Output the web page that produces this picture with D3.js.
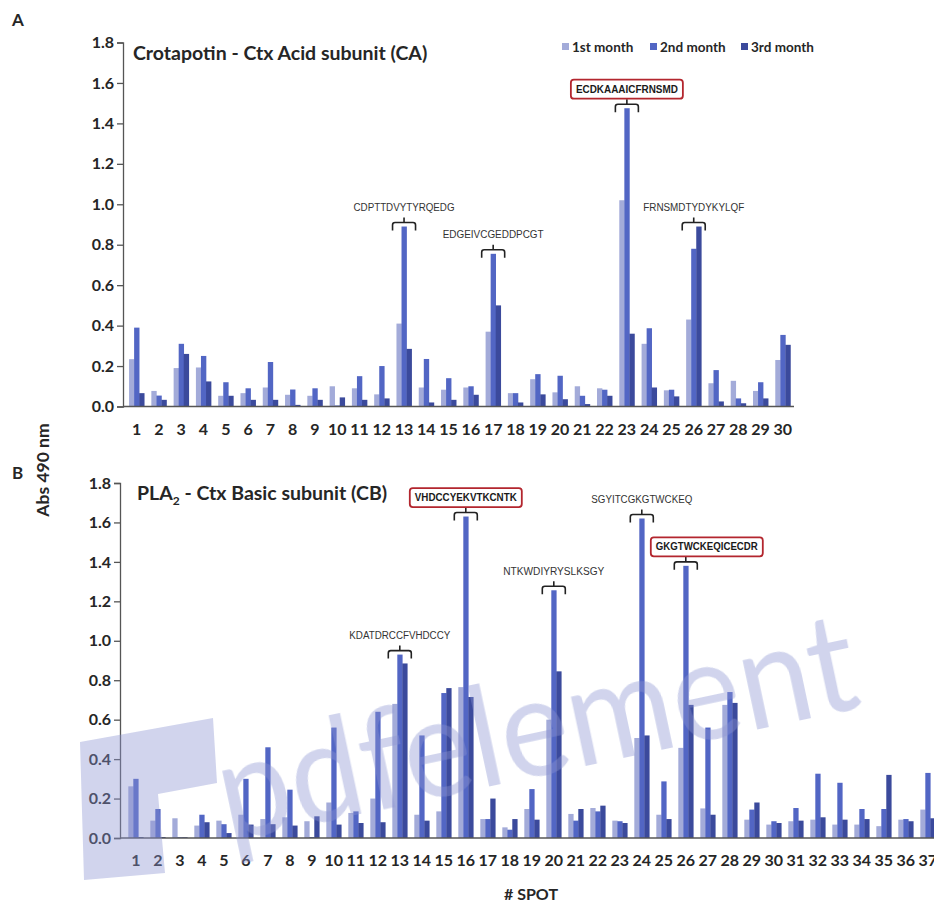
<!DOCTYPE html>
<html lang="en">
<head>
    <meta charset="UTF-8">
    <title>Crotoxin peptide spots - Abs 490 nm</title>
    <script src="https://d3js.org/d3.v7.min.js"></script>
    <style>
        body { margin: 0; background: #fff; }
        text { font-family: Lato, "Open Sans", Arial, sans-serif; fill: #262626; }
        .pep { font-family: "Liberation Sans", Arial, sans-serif; font-size: 10px; fill: #333; }
    </style>
</head>
<body>
    <div id="chart"></div>
    <script>
        // data
        const seriesNames = ["1st month", "2nd month", "3rd month"];

        const spotsA = d3.range(1, 31);
        const caMonth1 = [0.234, 0.077, 0.19, 0.193, 0.053, 0.066, 0.094, 0.058, 0.053, 0.10, 0.09, 0.06, 0.41, 0.094, 0.083,
                          0.094, 0.37, 0.066, 0.135, 0.07, 0.10, 0.09, 1.02, 0.31, 0.08, 0.43, 0.115, 0.127, 0.077, 0.23];
        const caMonth2 = [0.39, 0.054, 0.31, 0.25, 0.12, 0.09, 0.22, 0.084, 0.09, 0.005, 0.15, 0.20, 0.89, 0.235, 0.14,
                          0.10, 0.755, 0.066, 0.16, 0.152, 0.053, 0.083, 1.475, 0.387, 0.083, 0.78, 0.18, 0.04, 0.12, 0.354];
        const caMonth3 = [0.066, 0.033, 0.26, 0.124, 0.053, 0.033, 0.033, 0.008, 0.033, 0.045, 0.033, 0.04, 0.285, 0.02, 0.033,
                          0.058, 0.50, 0.02, 0.06, 0.036, 0.012, 0.053, 0.36, 0.094, 0.05, 0.89, 0.025, 0.016, 0.04, 0.305];

        const spotsB = d3.range(1, 38);
        const cbMonth1 = [0.262, 0.088, 0.10, 0.063, 0.088, 0.118, 0.096, 0.105, 0.085, 0.18, 0.127, 0.20, 0.68, 0.118, 0.135,
                          0.765, 0.096, 0.054, 0.147, 0.60, 0.122, 0.152, 0.088, 0.507, 0.118, 0.457, 0.15, 0.675, 0.093, 0.068,
                          0.085, 0.093, 0.068, 0.068, 0.06, 0.093, 0.144];
        const cbMonth2 = [0.30, 0.147, 0.004, 0.118, 0.07, 0.30, 0.46, 0.245, 0.005, 0.56, 0.135, 0.64, 0.93, 0.52, 0.735,
                          1.63, 0.096, 0.042, 0.248, 1.256, 0.088, 0.135, 0.085, 1.62, 0.287, 1.38, 0.56, 0.74, 0.144, 0.085,
                          0.152, 0.326, 0.28, 0.147, 0.147, 0.096, 0.33];
        const cbMonth3 = [0.005, 0.005, 0.004, 0.08, 0.025, 0.068, 0.07, 0.063, 0.11, 0.068, 0.076, 0.08, 0.885, 0.088, 0.76,
                          0.715, 0.20, 0.096, 0.093, 0.845, 0.147, 0.164, 0.076, 0.52, 0.096, 0.675, 0.118, 0.685, 0.18, 0.076,
                          0.088, 0.105, 0.093, 0.096, 0.32, 0.085, 0.10];

        const yTicks = [0, 0.2, 0.4, 0.6, 0.8, 1.0, 1.2, 1.4, 1.6, 1.8];

        const peptidesA = [
            { spot: 13, seq: "CDPTTDVYTYRQEDG", boxed: false },
            { spot: 17, seq: "EDGEIVCGEDDPCGT", boxed: false },
            { spot: 23, seq: "ECDKAAAICFRNSMD", boxed: true },
            { spot: 26, seq: "FRNSMDTYDYKYLQF", boxed: false }
        ];
        const peptidesB = [
            { spot: 13, seq: "KDATDRCCFVHDCCY", boxed: false },
            { spot: 16, seq: "VHDCCYEKVTKCNTK", boxed: true },
            { spot: 20, seq: "NTKWDIYRYSLKSGY", boxed: false },
            { spot: 24, seq: "SGYITCGKGTWCKEQ", boxed: false },
            { spot: 26, seq: "GKGTWCKEQICECDR", boxed: true, dx: 21 }
        ];

        const colors = ["#a3abd9", "#5266c4", "#3b4a9c"];

        const width = 934, height = 906;
        const svg = d3.select("#chart").append("svg")
            .attr("width", width)
            .attr("height", height);

        function drawPanel(opt) {
            const g = svg.append("g");
            const series = [opt.m1, opt.m2, opt.m3];

            const x = d3.scaleBand().domain(opt.spots).range([opt.x0, opt.x1]);
            const step = x.bandwidth();
            const xSub = d3.scaleBand().domain([0, 1, 2]).range([step * 0.16, step * 0.84]);
            const y = d3.scaleLinear().domain([0, 1.8]).range([opt.yZero, opt.yTop]);

            // bars
            series.forEach((vals, s) => {
                g.append("g").selectAll("rect")
                    .data(vals)
                    .join("rect")
                    .attr("x", (d, i) => x(opt.spots[i]) + xSub(s))
                    .attr("y", d => y(d))
                    .attr("width", xSub.bandwidth() + 0.3)
                    .attr("height", d => opt.yZero - y(d))
                    .attr("fill", colors[s]);
            });

            // y axis
            const yAxis = g.append("g")
                .attr("transform", `translate(${opt.axisX},0)`)
                .call(d3.axisLeft(y).tickValues(yTicks).tickFormat(d3.format(".1f")).tickSize(6).tickPadding(3));
            yAxis.selectAll("line, path").attr("stroke", "#555").attr("stroke-width", 1.3);
            yAxis.selectAll("text")
                .attr("font-size", 16)
                .attr("font-weight", "bold")
                .attr("font-family", "Lato, sans-serif")
                .attr("fill", "#262626");

            // x axis line
            g.append("line")
                .attr("x1", opt.axisX).attr("x2", opt.xAxisEnd)
                .attr("y1", opt.yZero).attr("y2", opt.yZero)
                .attr("stroke", "#555").attr("stroke-width", 1.6);

            g.append("g").selectAll("text")
                .data(opt.spots)
                .join("text")
                .attr("x", d => x(d) + step / 2)
                .attr("y", opt.yZero + 28)
                .attr("text-anchor", "middle")
                .attr("font-size", 16)
                .attr("font-weight", "bold")
                .text(d => d);

            // peptide brackets and labels
            opt.peptides.forEach(p => {
                const i = opt.spots.indexOf(p.spot);
                const top = y(d3.max(series, s => s[i]));
                const cx = x(p.spot) + step / 2;
                const by = top - 4;
                const hw = 11.5;
                g.append("path")
                    .attr("d", `M${cx - hw},${by + 8} L${cx - hw},${by + 2.5} Q${cx - hw},${by} ${cx - hw + 2.5},${by}` +
                               ` L${cx + hw - 2.5},${by} Q${cx + hw},${by} ${cx + hw},${by + 2.5} L${cx + hw},${by + 8}` +
                               ` M${cx},${by} L${cx},${by - 5}`)
                    .attr("fill", "none")
                    .attr("stroke", "#222")
                    .attr("stroke-width", 1.6);
                const tx = cx + (p.dx || 0);
                const ty = top - 19;
                if (p.boxed) {
                    g.append("rect")
                        .attr("x", tx - 56).attr("y", ty - 9.5)
                        .attr("width", 112).attr("height", 19)
                        .attr("rx", 3)
                        .attr("fill", "#fff")
                        .attr("stroke", "#b3262e")
                        .attr("stroke-width", 1.8);
                    g.append("text")
                        .attr("class", "pep")
                        .attr("x", tx).attr("y", ty + 3.5)
                        .attr("text-anchor", "middle")
                        .attr("font-weight", "bold")
                        .style("fill", "#1a1a1a")
                        .attr("textLength", 102)
                        .attr("lengthAdjust", "spacingAndGlyphs")
                        .text(p.seq);
                } else {
                    g.append("text")
                        .attr("class", "pep")
                        .attr("x", tx).attr("y", ty + 3.5)
                        .attr("text-anchor", "middle")
                        .attr("textLength", 101)
                        .attr("lengthAdjust", "spacingAndGlyphs")
                        .text(p.seq);
                }
            });

            return g;
        }

        drawPanel({
            spots: spotsA, m1: caMonth1, m2: caMonth2, m3: caMonth3,
            x0: 125.5, x1: 794, axisX: 123, xAxisEnd: 794,
            yZero: 406.5, yTop: 42.5, peptides: peptidesA
        });
        drawPanel({
            spots: spotsB, m1: cbMonth1, m2: cbMonth2, m3: cbMonth3,
            x0: 124.8, x1: 938.8, axisX: 120, xAxisEnd: 940,
            yZero: 838, yTop: 483, peptides: peptidesB
        });

        // panel titles
        svg.append("text")
            .attr("x", 133).attr("y", 60)
            .attr("font-size", 19.5).attr("font-weight", "bold")
            .text("Crotapotin - Ctx Acid subunit (CA)");

        const tB = svg.append("text")
            .attr("x", 137).attr("y", 500)
            .attr("font-size", 19.5).attr("font-weight", "bold");
        tB.append("tspan").text("PLA");
        tB.append("tspan").attr("font-size", 12).attr("dy", 5).text("2");
        tB.append("tspan").attr("dy", -5).text(" - Ctx Basic subunit (CB)");

        // panel letters
        svg.append("text").attr("x", 12).attr("y", 26)
            .attr("font-family", "Arial, sans-serif")
            .attr("font-size", 17).attr("font-weight", "bold").text("A");
        svg.append("text").attr("x", 12).attr("y", 479)
            .attr("font-family", "Arial, sans-serif")
            .attr("font-size", 17).attr("font-weight", "bold").text("B");

        // axis titles
        svg.append("text")
            .attr("transform", "translate(49,470) rotate(-90)")
            .attr("text-anchor", "middle")
            .attr("font-size", 17.5).attr("font-weight", "bold")
            .text("Abs 490 nm");
        svg.append("text")
            .attr("x", 531).attr("y", 900)
            .attr("text-anchor", "middle")
            .attr("font-size", 16).attr("font-weight", "bold")
            .text("# SPOT");

        // legend
        const legendX = [562, 650, 741];
        const legend = svg.append("g").selectAll("g")
            .data(seriesNames)
            .join("g")
            .attr("transform", (d, i) => `translate(${legendX[i]},47)`);
        legend.append("rect")
            .attr("x", 0).attr("y", -4).attr("width", 7).attr("height", 7)
            .attr("fill", (d, i) => colors[i]);
        legend.append("text")
            .attr("x", 10).attr("y", 5)
            .attr("font-size", 13.5).attr("font-weight", "bold")
            .attr("fill", "#333")
            .text(d => d);

        // faint watermark left on the source image
        const wm = svg.append("g").attr("opacity", 0.4).style("pointer-events", "none");
        wm.append("path")
            .attr("d", "M80,742 L213,718 L217,783 L158,794 L165,873 L84,880 Z")
            .attr("fill", "#8c95d2");
        wm.append("text")
            .attr("transform", "translate(228,842) rotate(-12)")
            .attr("font-family", "'Open Sans', sans-serif")
            .attr("font-weight", 400)
            .attr("font-size", 140)
            .attr("textLength", 650)
            .attr("lengthAdjust", "spacingAndGlyphs")
            .style("fill", "#8c95d2")
            .text("pdfelement");
    </script>
</body>
</html>
